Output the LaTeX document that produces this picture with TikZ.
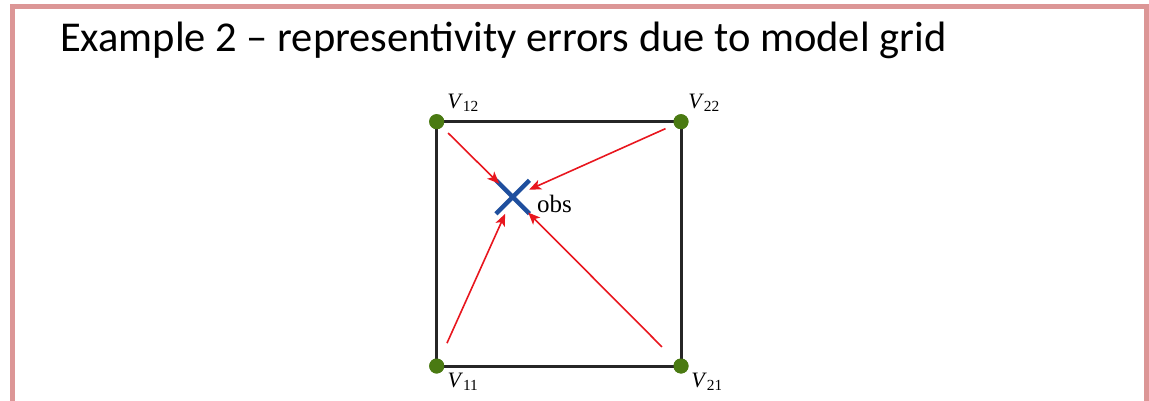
\documentclass[tikz,border=0pt]{standalone}
\usepackage{fontspec}
\setmainfont{Carlito}
\newfontfamily\tms{Liberation Serif}
\usetikzlibrary{arrows.meta,shapes.misc}
\definecolor{framepink}{HTML}{DC9696}
\definecolor{dotgreen}{HTML}{4A7A12}
\definecolor{obsblue}{HTML}{1F4F9E}
\definecolor{arrred}{HTML}{E8161E}
\tikzset{
  gridpt/.style={circle,fill=dotgreen,minimum size=15pt,inner sep=0pt},
  gridline/.style={draw=black!85,line width=3pt},
  obsmark/.style={cross out,draw=obsblue,line width=4.5pt,minimum size=29pt,inner sep=0pt},
  interp/.style={draw=arrred,line width=1.6pt,-{Stealth[length=12pt,width=10pt,inset=3pt]}},
  vlabel/.style={font=\tms\fontsize{22}{24}\selectfont,inner sep=0pt},
}
\begin{document}
\begin{tikzpicture}[x=1pt,y=-1pt]
\useasboundingbox (0,0) rectangle (1149,401);
\begin{scope}
\clip (0,0) rectangle (1149,401);
\draw[framepink,line width=5.5pt] (12.3,420) -- (12.3,6.5) -- (1146.5,6.5) -- (1146.5,420);
\end{scope}
\node[anchor=base west,inner sep=0pt,font=\fontsize{42.5}{50}\selectfont] (title) at (60,52) {Example 2 – representivity errors due to model grid};
% grid cell
\node[gridpt] (v12) at (436.7,121.7) {};
\node[gridpt] (v22) at (681,121.7) {};
\node[gridpt] (v11) at (436.7,366) {};
\node[gridpt] (v21) at (681,366) {};
\draw[gridline] (v12.center) -- (v22.center) -- (v21.center) -- (v11.center) -- cycle;
\node[gridpt] at (v12) {};
\node[gridpt] at (v22) {};
\node[gridpt] at (v11) {};
\node[gridpt] at (v21) {};
% observation
\node[obsmark] (obs) at (512.7,197) {};
\node[anchor=west,inner sep=0pt,font=\tms\fontsize{25}{27}\selectfont] (obslabel) at (537,204) {obs};
% interpolation arrows
\draw[interp,shorten <=16pt,shorten >=19pt] (v12.center) -- (obs.center);
\draw[interp,shorten <=17pt,shorten >=18pt] (v22.center) -- (obs.center);
\draw[interp,shorten <=25pt,shorten >=18.5pt] (v11.center) -- (obs.center);
\draw[interp,shorten <=27pt,shorten >=22pt] (v21.center) -- (obs.center);
% labels
\begin{scope}
\clip (0,0) rectangle (720,401);
\node[vlabel] (l12) at (463,103) {\textit{V}\textsubscript{12}};
\node[vlabel] (l22) at (704,103) {\textit{V}\textsubscript{22}};
\node[vlabel] (l11) at (463,382) {\textit{V}\textsubscript{11}};
\node[vlabel] (l21) at (707,382) {\textit{V}\textsubscript{21}};
\end{scope}
\end{tikzpicture}
\end{document}
